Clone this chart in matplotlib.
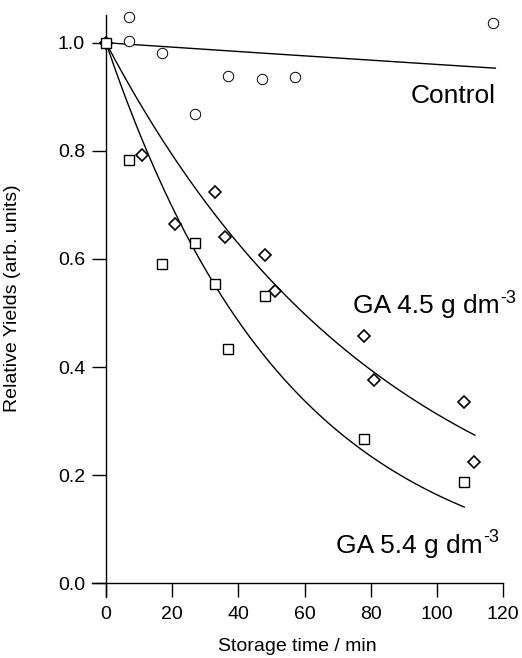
import numpy as np
import matplotlib
matplotlib.use("Agg")
import matplotlib.pyplot as plt

plt.rcParams['font.family'] = ['Liberation Sans', 'DejaVu Sans']

# ======================
# Data
control_t = [0, 7, 7, 17, 27, 37, 47, 57, 117]
control_y = [1.0, 1.048, 1.004, 0.981, 0.869, 0.938, 0.932, 0.937, 1.036]

ga45_t = [0, 11, 21, 33, 36, 48, 51, 78, 81, 108, 111]
ga45_y = [1.0, 0.793, 0.664, 0.723, 0.640, 0.607, 0.541, 0.458, 0.376, 0.335, 0.225]

ga54_t = [0, 7, 17, 27, 33, 37, 48, 78, 108]
ga54_y = [1.0, 0.783, 0.591, 0.630, 0.554, 0.433, 0.532, 0.267, 0.187]

# first-order decay fits: rate constant (1/min), end of drawn curve (min)
control_k, control_end = 0.00041, 117.6
ga45_k, ga45_end = 0.01162, 111.4
ga54_k, ga54_end = 0.0181, 108.2

x_ticks = [0, 20, 40, 60, 80, 100, 120]
y_ticks = [0.0, 0.2, 0.4, 0.6, 0.8, 1.0]
# ======================

fig = plt.figure(figsize=(5.22, 6.58), dpi=100)
ax = fig.add_axes([0.1757, 0.0927, 0.7885, 0.8845])

for k, end in [(control_k, control_end), (ga45_k, ga45_end), (ga54_k, ga54_end)]:
    t = np.linspace(0, end, 200)
    ax.plot(t, np.exp(-k * t), color='black', linewidth=1.0, zorder=2)

ax.plot(control_t, control_y, linestyle='none', marker='o', markersize=7.5,
        markerfacecolor='white', markeredgecolor='black', markeredgewidth=0.7,
        clip_on=False, zorder=3)
ax.plot(ga45_t, ga45_y, linestyle='none', marker='D', markersize=6.2,
        markerfacecolor='white', markeredgecolor='black', markeredgewidth=1.2,
        clip_on=False, zorder=3)
ax.plot(ga54_t, ga54_y, linestyle='none', marker='s', markersize=7.2,
        markerfacecolor='white', markeredgecolor='black', markeredgewidth=1.0,
        clip_on=False, zorder=3)


def label_with_superscript(x, y, main, sup):
    t = ax.text(x, y, main, fontsize=19, ha='left', va='baseline')
    ax.annotate(sup, xy=(1, 1), xycoords=t, xytext=(0.5, -3),
                textcoords='offset points', fontsize=13, ha='left', va='center')


ax.text(117.8, 0.901, 'Control', fontsize=19, ha='right', va='center')
label_with_superscript(74.5, 0.4995, 'GA 4.5 g dm', '-3')
label_with_superscript(69.5, 0.0566, 'GA 5.4 g dm', '-3')

ax.set_xlim(-4.3, 120)
ax.set_ylim(-0.0253, 1.0513)
ax.spines['left'].set_position(('data', 0))
ax.spines['bottom'].set_position(('data', 0))
ax.spines['top'].set_visible(False)
ax.spines['right'].set_visible(False)
for s in ['left', 'bottom']:
    ax.spines[s].set_linewidth(1.0)

ax.set_xticks(x_ticks)
ax.set_yticks(y_ticks)
ax.set_yticklabels([f'{v:.1f}' for v in y_ticks])
ax.tick_params(direction='out', length=10, width=1.0, labelsize=14, pad=5)
ax.tick_params(axis='x', pad=6)

ax.set_xlabel('Storage time / min', fontsize=14)
ax.set_ylabel('Relative Yields (arb. units)', fontsize=14)
ax.xaxis.set_label_coords(0.5, -0.071)
ax.yaxis.set_label_coords(-0.172, 0.513)

fig.savefig('out.png', dpi=100)
